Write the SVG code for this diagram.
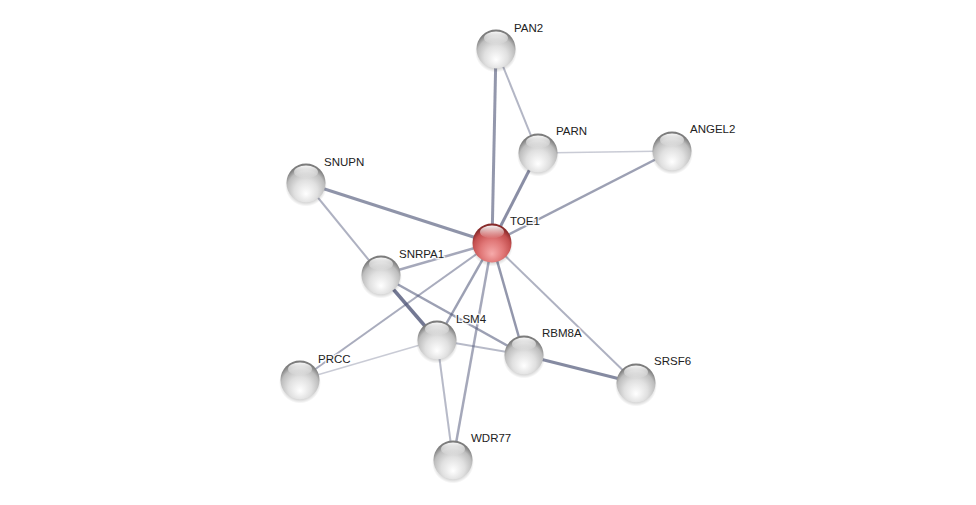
<svg xmlns="http://www.w3.org/2000/svg" width="976" height="505" viewBox="0 0 976 505">
<defs>
<radialGradient id="gray" cx="50%" cy="66%" r="60%" fx="50%" fy="78%">
<stop offset="0" stop-color="#ffffff"/>
<stop offset="0.5" stop-color="#e0e0e0"/>
<stop offset="0.82" stop-color="#bdbdbd"/>
<stop offset="1" stop-color="#7c7c7c"/>
</radialGradient>
<radialGradient id="red" cx="50%" cy="66%" r="60%" fx="50%" fy="78%">
<stop offset="0" stop-color="#f6aaaa"/>
<stop offset="0.5" stop-color="#e07676"/>
<stop offset="0.82" stop-color="#c44f4f"/>
<stop offset="1" stop-color="#872a2a"/>
</radialGradient>
<linearGradient id="hl" x1="0" y1="0" x2="0" y2="1">
<stop offset="0" stop-color="#ffffff" stop-opacity="0.95"/>
<stop offset="1" stop-color="#ffffff" stop-opacity="0"/>
</linearGradient>
<radialGradient id="shadow" cx="50%" cy="50%" r="50%">
<stop offset="0.7" stop-color="#000" stop-opacity="0.25"/>
<stop offset="1" stop-color="#000" stop-opacity="0"/>
</radialGradient>
<g id="ball">
<circle cx="0" cy="2.5" r="21" fill="url(#shadow)"/>
<circle cx="0" cy="0" r="19.5" fill="url(#gray)"/>
<ellipse cx="0" cy="-11" rx="12" ry="6.5" fill="url(#hl)"/>
</g>
<g id="redball">
<circle cx="0" cy="2.5" r="21" fill="url(#shadow)"/>
<circle cx="0" cy="0" r="19.5" fill="url(#red)"/>
<ellipse cx="0" cy="-11" rx="12" ry="6.5" fill="url(#hl)"/>
</g>
</defs>
<style>
.e{stroke:#4b5275;fill:none;stroke-linecap:butt}
.lbl{font-family:"Liberation Sans",Arial,sans-serif;font-size:11.5px;fill:#222;stroke:#ffffff;stroke-width:3;stroke-opacity:0.8;paint-order:stroke;stroke-linejoin:round}
</style>
<rect width="976" height="505" fill="#ffffff"/>
<g id="edges">
<line class="e" x1="496" y1="49" x2="492" y2="243" stroke-width="3" stroke-opacity="0.6"/>
<line class="e" x1="496" y1="49" x2="538" y2="153" stroke-width="2" stroke-opacity="0.42"/>
<line class="e" x1="538" y1="153" x2="492" y2="243" stroke-width="3" stroke-opacity="0.65"/>
<line class="e" x1="538" y1="153" x2="672" y2="151" stroke-width="1.5" stroke-opacity="0.3"/>
<line class="e" x1="672" y1="151" x2="492" y2="243" stroke-width="2.5" stroke-opacity="0.55"/>
<line class="e" x1="306" y1="183" x2="492" y2="243" stroke-width="3" stroke-opacity="0.62"/>
<line class="e" x1="306" y1="183" x2="381" y2="275" stroke-width="2" stroke-opacity="0.45"/>
<line class="e" x1="381" y1="275" x2="492" y2="243" stroke-width="2.5" stroke-opacity="0.5"/>
<line class="e" x1="381" y1="275" x2="437" y2="340" stroke-width="3.5" stroke-opacity="0.78"/>
<line class="e" x1="381" y1="275" x2="524" y2="355" stroke-width="2.5" stroke-opacity="0.55"/>
<line class="e" x1="492" y1="243" x2="437" y2="340" stroke-width="2.5" stroke-opacity="0.55"/>
<line class="e" x1="492" y1="243" x2="524" y2="355" stroke-width="2.5" stroke-opacity="0.6"/>
<line class="e" x1="492" y1="243" x2="636" y2="383" stroke-width="2" stroke-opacity="0.45"/>
<line class="e" x1="492" y1="243" x2="453" y2="460" stroke-width="2.5" stroke-opacity="0.5"/>
<line class="e" x1="492" y1="243" x2="300" y2="380" stroke-width="2" stroke-opacity="0.48"/>
<line class="e" x1="437" y1="340" x2="300" y2="380" stroke-width="1.5" stroke-opacity="0.3"/>
<line class="e" x1="437" y1="340" x2="524" y2="355" stroke-width="2" stroke-opacity="0.4"/>
<line class="e" x1="437" y1="340" x2="453" y2="460" stroke-width="2" stroke-opacity="0.4"/>
<line class="e" x1="524" y1="355" x2="636" y2="383" stroke-width="3" stroke-opacity="0.68"/>
</g>
<g id="PAN2"><use href="#ball" x="496" y="49"/><text class="lbl" x="514" y="32">PAN2</text></g>
<g id="PARN"><use href="#ball" x="538" y="153"/><text class="lbl" x="556" y="135">PARN</text></g>
<g id="ANGEL2"><use href="#ball" x="672" y="151"/><text class="lbl" x="690" y="133">ANGEL2</text></g>
<g id="SNUPN"><use href="#ball" x="306" y="183"/><text class="lbl" x="324" y="166">SNUPN</text></g>
<g id="TOE1"><use href="#redball" x="492" y="243"/><text class="lbl" x="510" y="225">TOE1</text></g>
<g id="SNRPA1"><use href="#ball" x="381" y="275"/><text class="lbl" x="399" y="258">SNRPA1</text></g>
<g id="LSM4"><use href="#ball" x="437" y="340"/><text class="lbl" x="456" y="323">LSM4</text></g>
<g id="RBM8A"><use href="#ball" x="524" y="355"/><text class="lbl" x="542" y="337">RBM8A</text></g>
<g id="SRSF6"><use href="#ball" x="636" y="383"/><text class="lbl" x="654" y="365">SRSF6</text></g>
<g id="PRCC"><use href="#ball" x="300" y="380"/><text class="lbl" x="318" y="363">PRCC</text></g>
<g id="WDR77"><use href="#ball" x="453" y="460"/><text class="lbl" x="471" y="442">WDR77</text></g>
</svg>
